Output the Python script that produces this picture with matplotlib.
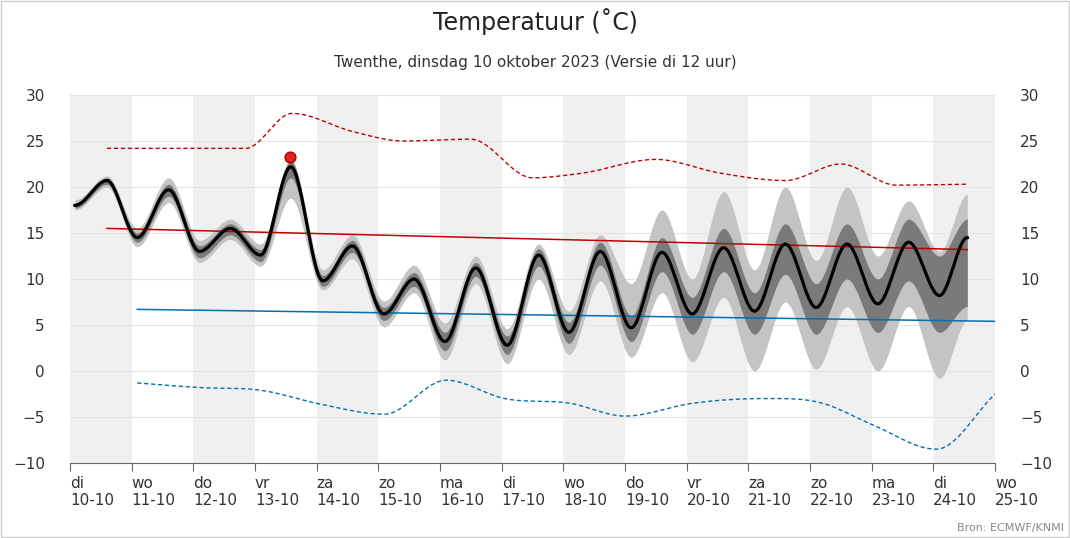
import numpy as np
import matplotlib.pyplot as plt

# daily extremes of the ensemble median (time in days since 10-10 00h)
t_med = [0.08, 0.6, 1.09, 1.6, 2.1, 2.6, 3.09, 3.58, 4.1, 4.58, 5.09, 5.58, 6.08, 6.58,
         7.09, 7.6, 8.09, 8.6, 9.1, 9.6, 10.09, 10.6, 11.1, 11.6, 12.1, 12.6, 13.1, 13.6,
         14.1, 14.55]
median = [18.0, 20.7, 14.5, 19.7, 13.0, 15.5, 12.6, 22.2, 9.8, 13.6, 6.2, 10.0, 3.2, 11.2,
          2.8, 12.6, 4.2, 13.0, 4.7, 12.9, 6.2, 13.4, 6.5, 13.8, 6.9, 13.8, 7.3, 14.0,
          8.2, 14.5]
dark_lo = [17.7, 20.3, 14.0, 19.0, 12.3, 14.8, 11.9, 21.0, 9.2, 12.9, 5.5, 9.2, 2.2, 10.3,
           1.8, 11.4, 3.0, 11.5, 3.2, 10.8, 4.0, 10.8, 4.0, 10.5, 4.0, 10.0, 4.2, 9.8,
           4.2, 7.0]
dark_hi = [18.3, 21.0, 15.0, 20.3, 13.6, 16.0, 13.2, 22.8, 10.4, 14.2, 6.9, 10.7, 4.2, 11.8,
           3.8, 13.3, 5.3, 14.0, 6.0, 14.5, 8.0, 15.5, 8.5, 16.0, 9.5, 16.0, 10.0, 16.5,
           12.5, 16.5]
light_lo = [17.5, 20.0, 13.5, 18.3, 11.8, 14.3, 11.4, 18.8, 8.8, 12.2, 4.8, 8.5, 1.2, 9.5,
            0.8, 10.0, 1.8, 9.8, 1.5, 8.5, 1.0, 8.0, 0.0, 7.5, 0.2, 7.0, 0.0, 7.0,
            -0.8, 5.5]
light_hi = [18.6, 21.2, 15.5, 21.0, 14.2, 16.5, 13.8, 23.0, 11.0, 14.8, 7.6, 11.5, 5.2, 12.5,
            4.6, 13.8, 6.5, 14.8, 9.5, 17.5, 10.0, 19.5, 11.0, 20.0, 12.0, 20.0, 12.5, 18.5,
            13.0, 19.2]

# climatological extremes / normals
t_rec_max = [0.6, 2.85, 3.6, 4.6, 5.4, 6.5, 7.5, 8.3, 9.5, 10.55, 11.6, 12.5, 13.4, 14.55]
rec_max = [24.2, 24.2, 28.0, 26.0, 25.0, 25.2, 21.0, 21.5, 23.0, 21.5, 20.7, 22.5, 20.2, 20.3]
t_rec_min = [1.09, 2.1, 3.1, 4.06, 5.1, 6.1, 7.05, 8.1, 9.0, 10.1, 11.2, 12.2, 13.0, 14.05, 15.0]
rec_min = [-1.3, -1.8, -2.1, -3.6, -4.7, -1.0, -3.0, -3.5, -4.9, -3.5, -3.0, -3.5, -5.8, -8.5, -2.5]
t_norm_max = [0.6, 14.55]
norm_max = [15.5, 13.2]
t_norm_min = [1.09, 15.0]
norm_min = [6.7, 5.4]
t_obs = [3.56]
obs = [23.3]

day_names = ['di', 'wo', 'do', 'vr', 'za', 'zo', 'ma', 'di', 'wo', 'do', 'vr', 'za', 'zo', 'ma', 'di', 'wo']
dates = ['%d-10' % d for d in range(10, 26)]


def smooth(t, y, flat=False, n=30):
    # cubic hermite drawing between the read points
    t = np.asarray(t, float); y = np.asarray(y, float)
    m = np.gradient(y, t)
    if flat:
        m[:] = 0
    else:
        d = np.diff(y)
        for i in range(1, len(y) - 1):
            if d[i - 1] * d[i] <= 0:
                m[i] = 0
    xs, ys = [], []
    for i in range(len(t) - 1):
        h = t[i + 1] - t[i]
        s = np.linspace(0, 1, n, endpoint=False)
        h00 = 2 * s**3 - 3 * s**2 + 1; h10 = s**3 - 2 * s**2 + s
        h01 = -2 * s**3 + 3 * s**2; h11 = s**3 - s**2
        xs.append(t[i] + s * h)
        ys.append(h00 * y[i] + h10 * h * m[i] + h01 * y[i + 1] + h11 * h * m[i + 1])
    xs.append([t[-1]]); ys.append([y[-1]])
    return np.concatenate(xs), np.concatenate(ys)


fig = plt.figure(figsize=(10.7, 5.38), dpi=100)
ax = fig.add_axes([70 / 1070, 75 / 538, 925 / 1070, 368 / 538])

for d in range(0, 15, 2):
    ax.axvspan(d, d + 1, color='#f0f0f0', lw=0, zorder=0)
for v in range(-10, 31, 5):
    ax.axhline(v, color='#e4e4e4', lw=0.8, zorder=0.5)

x, lo = smooth(t_med, light_lo, True); _, hi = smooth(t_med, light_hi, True)
ax.fill_between(x, lo, hi, color='#c4c4c4', lw=0, zorder=1)
x, lo = smooth(t_med, dark_lo, True); _, hi = smooth(t_med, dark_hi, True)
ax.fill_between(x, lo, hi, color='#7a7a7a', lw=0, zorder=2)
x, y = smooth(t_med, median, True)
ax.plot(x, y, color='black', lw=2.3, zorder=4)

x, y = smooth(t_rec_max, rec_max)
ax.plot(x, y, color='#c00000', lw=1, ls=(0, (3, 2)), zorder=3)
x, y = smooth(t_rec_min, rec_min)
ax.plot(x, y, color='#0070b0', lw=1, ls=(0, (3, 2)), zorder=3)
ax.plot(t_norm_max, norm_max, color='#c00000', lw=1.1, zorder=3)
ax.plot(t_norm_min, norm_min, color='#0070b0', lw=1.1, zorder=3)
ax.scatter(t_obs, obs, s=60, color='#dd2222', edgecolor='#aa0000', zorder=5)

ax.set_xlim(0, 15)
ax.set_ylim(-10, 30)
ax.set_yticks(range(-10, 31, 5))
ax.tick_params(axis='y', length=0, labelsize=11, colors='#333333', pad=18,
               labelleft=True, labelright=True)
for tk in ax.yaxis.get_major_ticks():
    tk.label1.set_horizontalalignment('right')
    tk.label2.set_horizontalalignment('left')
ax.set_xticks(range(16))
ax.set_xticklabels([f'{a}\n{b}' for a, b in zip(day_names, dates)], ha='left',
                   fontsize=11, color='#333333')
ax.tick_params(axis='x', length=6, color='#666666', pad=3)
for s in ['top', 'left', 'right']:
    ax.spines[s].set_visible(False)
ax.spines['bottom'].set_color('#666666')

fig.text(0.5, 1 - 22 / 538, 'Temperatuur (˚C)', ha='center', va='center', fontsize=17, color='#222222')
fig.text(0.5, 1 - 63 / 538, 'Twenthe, dinsdag 10 oktober 2023 (Versie di 12 uur)', ha='center',
         va='center', fontsize=11, color='#333333')
fig.text(1 - 6 / 1070, 10 / 538, 'Bron: ECMWF/KNMI', ha='right', va='center', fontsize=8, color='#888888')
fig.patches.append(plt.Rectangle((0.001, 0.001), 0.998, 0.998, transform=fig.transFigure,
                                 fill=False, edgecolor='#cccccc', lw=1))

fig.savefig('out.png', dpi=100)
